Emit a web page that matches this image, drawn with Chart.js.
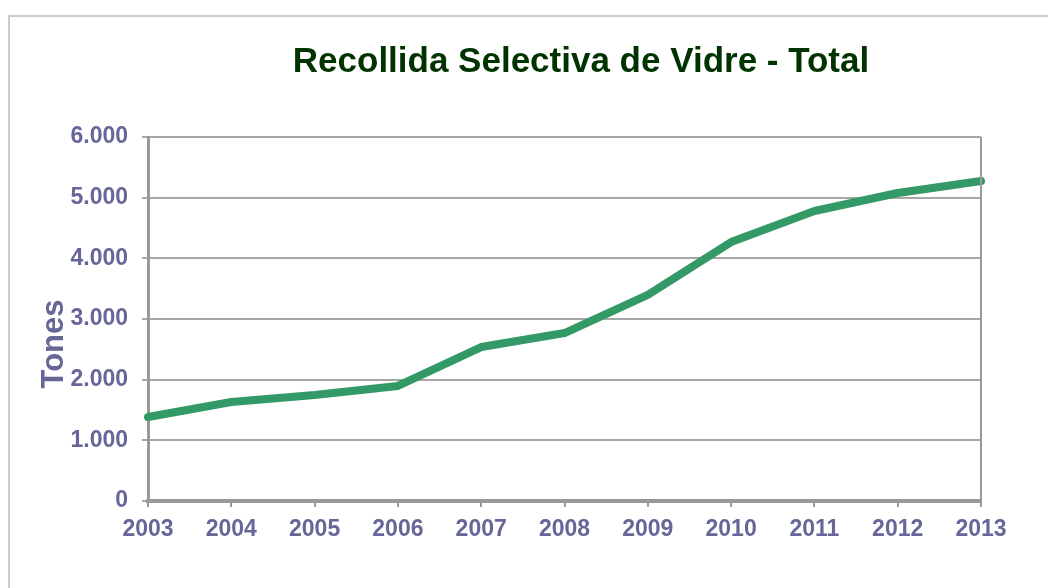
<!DOCTYPE html>
<html>
<head>
<meta charset="utf-8">
<title>Recollida Selectiva de Vidre - Total</title>
<script src="https://cdn.jsdelivr.net/npm/chart.js@4"></script>
<style>
    html, body { margin: 0; padding: 0; background: #ffffff; }
    #marc { position: absolute; left: 8px; top: 15px; width: 1100px; height: 700px; border-left: 2px solid #cccccc; border-top: 2px solid #cccccc; }
    #contenidor { position: absolute; left: 0; top: 0; width: 1048px; height: 588px; }
</style>
</head>
<body>
<div id="marc"></div>
<div id="contenidor"><canvas id="grafic" width="1048" height="588"></canvas></div>
<script>
// dades
const anys = ["2003", "2004", "2005", "2006", "2007", "2008", "2009", "2010", "2011", "2012", "2013"]
const tones = [1385, 1632, 1747, 1896, 2538, 2769, 3396, 4269, 4780, 5077, 5275]
const titol = "Recollida Selectiva de Vidre - Total"
const titolEix = "Tones"

const colorText = "#666699"
const colorEix = "#999999"
const fontBase = "'Liberation Sans', Arial, sans-serif"

// format amb punt de milers
const formatMilers = (v) => String(v).replace(/\B(?=(\d{3})+(?!\d))/g, ".")

// titol i titol de l'eix dibuixats a ma
const textos = {
    id: "textos",
    afterDraw: (chart) => {
        const ctx = chart.ctx
        const area = chart.chartArea
        ctx.save()
        ctx.fillStyle = "#003300"
        ctx.font = "bold 35px " + fontBase
        ctx.textAlign = "center"
        ctx.textBaseline = "alphabetic"
        ctx.fillText(titol, 581, 72)

        ctx.fillStyle = colorText
        ctx.font = "bold 31px " + fontBase
        ctx.translate(63, 344)
        ctx.rotate(-Math.PI / 2)
        ctx.fillText(titolEix, 0, 0)
        ctx.restore()

        // vora dreta de l'area
        ctx.save()
        ctx.strokeStyle = colorEix
        ctx.lineWidth = 2
        ctx.beginPath()
        ctx.moveTo(area.right, area.top)
        ctx.lineTo(area.right, area.bottom)
        ctx.stroke()
        ctx.restore()
    }
}

const ctx = document.getElementById("grafic").getContext("2d")

new Chart(ctx, {
    type: "line",
    data: {
        labels: anys,
        datasets: [{
            label: titolEix,
            data: tones,
            borderColor: "#339966",
            borderWidth: 8,
            borderCapStyle: "round",
            borderJoinStyle: "round",
            pointRadius: 0,
            tension: 0,
            fill: false
        }]
    },
    options: {
        responsive: false,
        animation: false,
        layout: { padding: { left: 0, right: 67, top: 137, bottom: 0 } },
        plugins: {
            legend: { display: false },
            title: { display: false },
            tooltip: { enabled: false }
        },
        scales: {
            x: {
                offset: false,
                afterFit: (scale) => { scale.height = 87 },
                grid: { drawOnChartArea: false, drawTicks: true, tickLength: 6, color: colorEix, lineWidth: 2 },
                border: { display: true, color: colorEix, width: 4 },
                ticks: {
                    color: colorText,
                    padding: 9,
                    maxRotation: 0,
                    autoSkip: false,
                    font: { family: fontBase, size: 23, weight: "bold" }
                }
            },
            y: {
                min: 0,
                max: 6000,
                afterFit: (scale) => { scale.width = 148 },
                grid: { color: "#a6a6a6", lineWidth: 2, drawTicks: true, tickLength: 6 },
                border: { display: true, color: colorEix, width: 3 },
                ticks: {
                    stepSize: 1000,
                    color: colorText,
                    padding: 14,
                    font: { family: fontBase, size: 23, weight: "bold" },
                    callback: (v) => formatMilers(v)
                }
            }
        }
    },
    plugins: [textos]
})
</script>
</body>
</html>
